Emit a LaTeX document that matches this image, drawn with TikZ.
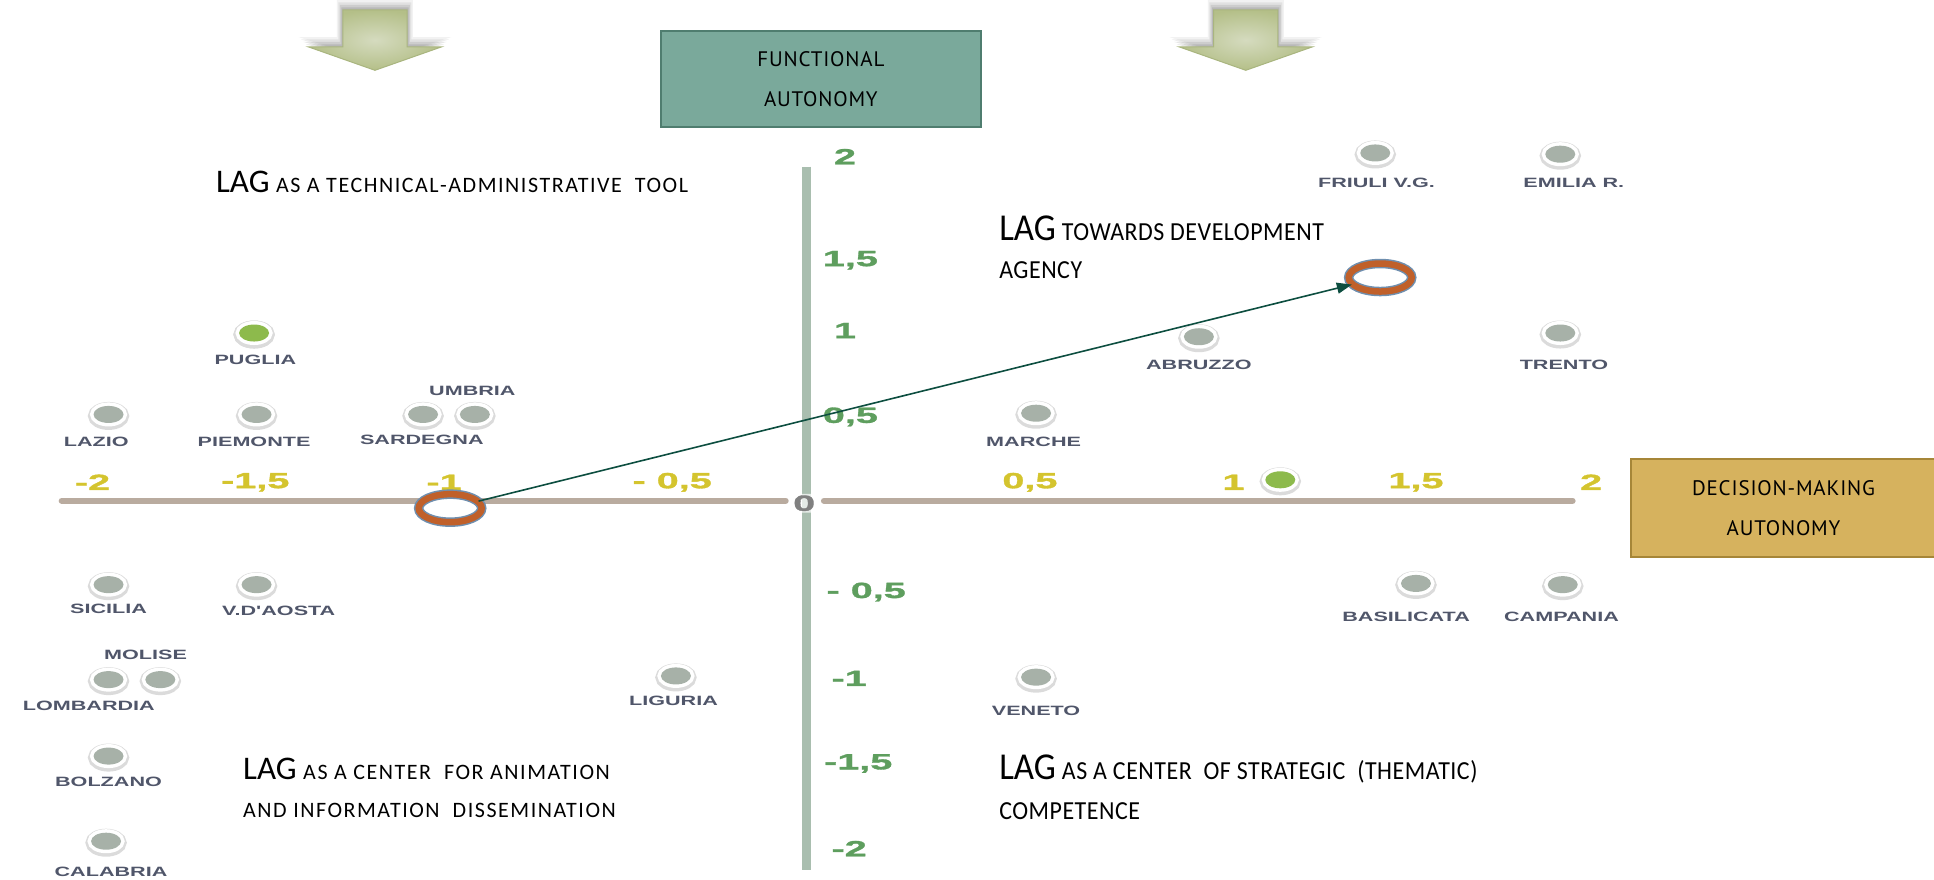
\documentclass[tikz,border=0pt]{standalone}
\usepackage{fontspec}
\setmainfont{Carlito}
\newfontfamily\regfont[FakeStretch=1.6]{Liberation Sans}
\newfontfamily\numfont[FakeStretch=1.8,FakeBold=1.5]{Liberation Sans}
\newfontfamily\boxfont[LetterSpace=4]{PT Sans}
\newfontfamily\lsfont[LetterSpace=7]{Carlito}
\newfontfamily\condfont[FakeStretch=0.92]{Carlito}
\newfontfamily\condlsfont[FakeStretch=0.92,LetterSpace=2]{Carlito}
\usetikzlibrary{shapes.geometric,arrows.meta}
\definecolor{axisV}{HTML}{A9BEAF}
\definecolor{axisH}{HTML}{B9AB9F}
\definecolor{numY}{HTML}{D4C42E}
\definecolor{numG}{HTML}{5E9E5E}
\definecolor{regtext}{HTML}{50566A}
\definecolor{dotgray}{HTML}{A7B1A8}
\definecolor{dotgreen}{HTML}{8DBA4C}
\definecolor{ringorange}{HTML}{C0602A}
\definecolor{ringblue}{HTML}{6F8FAF}
\definecolor{arrowgreen}{HTML}{0D4E40}
\definecolor{boxteal}{HTML}{7AA99B}
\definecolor{boxtealb}{HTML}{4F7D6F}
\definecolor{boxgold}{HTML}{D6B25E}
\definecolor{boxgoldb}{HTML}{A68638}
\definecolor{arrowin}{HTML}{D5DBBF}
\definecolor{arrowout}{HTML}{B4BF88}
\definecolor{arrowb}{HTML}{A9B57F}
\newcommand\laghead[1]{{\fontsize{33}{33}\selectfont LAG}{\lsfont\fontsize{22}{22}\selectfont\ #1}}
\newcommand\lagcond[1]{{\condfont\fontsize{38}{38}\selectfont LAG}{\condlsfont\fontsize{26}{26}\selectfont\ #1}}
\begin{document}
\begin{tikzpicture}[x=1.2334pt, y=-1.2334pt,
  dotstyle/.style={ellipse, inner sep=0pt, minimum width=30pt, minimum height=17pt, fill=dotgray,
    preaction={draw=black!14, line width=11pt, transform canvas={yshift=-1.5pt}},
    preaction={draw=white, line width=7pt}},
  greendot/.style={dotstyle, fill=dotgreen},
  reglabel/.style={font=\regfont\bfseries\fontsize{13.5}{13.5}\selectfont, text=regtext, inner sep=0pt},
  numh/.style={font=\numfont\bfseries\fontsize{22}{22}\selectfont, text=numY, inner sep=0pt},
  numv/.style={font=\numfont\bfseries\fontsize{22}{22}\selectfont, text=numG, inner sep=0pt, anchor=west},
  quad/.style={anchor=base west, inner sep=0pt},
  smallq/.style={quad, font=\lsfont\fontsize{22}{22}\selectfont},
  smallc/.style={quad, font=\condlsfont\fontsize{26}{26}\selectfont},
  ring/.style={ellipse, inner sep=0pt, minimum width=63pt, minimum height=28pt, fill=white,
    draw=ringblue, double=ringorange, double distance=6.5pt, line width=1.5pt},
  linkarrow/.style={draw=arrowgreen, line width=1.6pt, -{Triangle[length=15pt,width=11pt]}},
  axisbox/.style={draw, line width=2pt, inner sep=0pt, align=center,
    font=\boxfont\fontsize{21}{40}\selectfont}
]
\useasboundingbox (0,0) rectangle (1568,713);
% big arrows
\foreach \cx/\nm in {304/arrL, 1010/arrR}{
  \foreach \d/\op in {8/0.05, 6/0.07, 4/0.09, 2/0.1}{
    \fill[black, opacity=\op] (\cx-26-\d*0.6,8-\d) -- (\cx+26+\d*0.6,8-\d) -- (\cx+26+\d*0.6,38-\d) -- (\cx+54+\d,38-\d)
      -- (\cx,50) -- (\cx-54-\d,38-\d) -- (\cx-26-\d*0.6,38-\d) -- cycle;
  }
  \path[draw=arrowb, line width=1pt, inner color=arrowin, outer color=arrowout]
    (\cx-26,8) -- (\cx+26,8) -- (\cx+26,38) -- (\cx+54,38) -- (\cx,57) -- (\cx-54,38) -- (\cx-26,38) -- cycle;
}
% axis boxes
\node[axisbox, fill=boxteal, draw=boxtealb, minimum width=320pt, minimum height=96pt] (func) at (665.5,64) {FUNCTIONAL\\AUTONOMY};
\node[axisbox, fill=boxgold, draw=boxgoldb, minimum width=305pt, minimum height=98pt] (dec) at (1446,412) {DECISION-MAKING\\AUTONOMY};
% axes
\draw[axisV, line width=9pt] (654,135) -- (654,705);
\draw[axisH, line width=6pt, line cap=round] (50,406) -- (637,406);
\draw[axisH, line width=6pt, line cap=round] (668,406) -- (1275,406);
\node[font=\numfont\bfseries\fontsize{22}{22}\selectfont, text=black!50, fill=white, fill opacity=0.7, text opacity=1, inner sep=1.5pt, rounded corners=3pt] (zero) at (652,408) {0};
% horizontal numbers
\foreach \x/\t/\nm in {75/-2/h1, 207/-1{,}5/h2, 360/-1/h3, 545/- 0{,}5/h4, 835/0{,}5/h5, 1000/1/h6, 1148/1{,}5/h7, 1290/2/h8}{
  \node[numh] (\nm) at (\x,391) {\t};
}
% vertical numbers
\foreach \x/\y/\t/\nm in {676/127/2/v1, 667/211/1{,}5/v2, 676/268/1/v3, 667/338/0{,}5/v4, 670/480/- 0{,}5/v5, 674/550/-1/v6, 668/619/-1{,}5/v7, 674/688/-2/v8}{
  \node[numv] (\nm) at (\x,\y) {\t};
}
% region dots
\foreach \n/\x/\y/\t/\lx/\ly in {
  puglia/206/270/PUGLIA/207/292,
  lazio/88/336/LAZIO/78/358,
  piemonte/208/336/PIEMONTE/206/358,
  sardegna/343/336/SARDEGNA/342/357,
  umbria/385/336/UMBRIA/383/317,
  sicilia/88/474/SICILIA/88/494,
  vdaosta/208/474/V.D'AOSTA/226/495,
  lombardia/88/551/LOMBARDIA/72/572,
  molise/130/551/MOLISE/118/531,
  bolzano/88/613/BOLZANO/88/634,
  calabria/86/682/CALABRIA/90/707,
  liguria/548/548/LIGURIA/546/568,
  marche/840/335/MARCHE/838/358,
  abruzzo/972/273/ABRUZZO/972/296,
  trento/1265/270/TRENTO/1268/296,
  friuli/1115/124/FRIULI V.G./1116/148,
  emilia/1265/125/EMILIA R./1276/148,
  basilicata/1148/473/BASILICATA/1140/500,
  campania/1267/474/CAMPANIA/1266/500,
  veneto/840/549/VENETO/840/576}{
  \node[dotstyle] (\n) at (\x,\y) {};
  \node[reglabel] (lbl-\n) at (\lx,\ly) {\t};
}
\node[greendot] (pugliaG) at (206,270) {};
\node[greendot] (onedot) at (1038,389) {};
% quadrant texts
\node[quad] (tl) at (175,156) {\laghead{AS A TECHNICAL-ADMINISTRATIVE\ \ TOOL}};
\node[quad] (tr1) at (810,195) {\lagcond{TOWARDS DEVELOPMENT}};
\node[smallc] (tr2) at (810,226) {AGENCY};
\node[quad] (bl1) at (197,632) {\laghead{AS A CENTER\ \ FOR ANIMATION}};
\node[smallq] (bl2) at (197,663) {AND INFORMATION\ \ DISSEMINATION};
\node[quad] (br1) at (810,632) {\lagcond{AS A CENTER\ \ OF STRATEGIC\ \ (THEMATIC)}};
\node[smallc] (br2) at (810,664) {COMPETENCE};
% rings and link
\node[ring] (r1) at (365,412) {};
\node[ring] (r2) at (1119,225) {};
\draw[linkarrow] (r1) -- (r2);
\end{tikzpicture}
\end{document}
